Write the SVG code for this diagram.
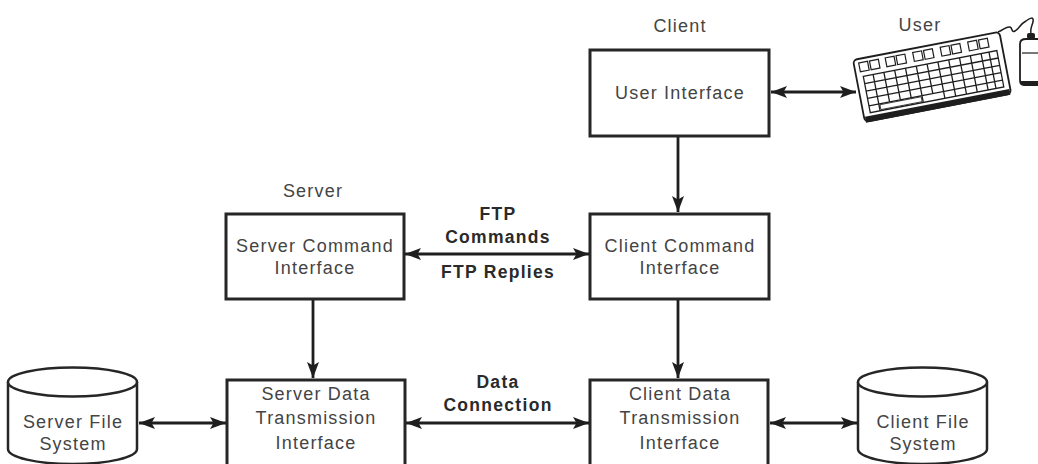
<svg xmlns="http://www.w3.org/2000/svg" width="1038" height="464" viewBox="0 0 1038 464">
  <style>
    .box { fill: #ffffff; stroke: #262626; stroke-width: 3; }
    .cyl { fill: #ffffff; stroke: #262626; stroke-width: 2.5; }
    .lbl { font-family: "Liberation Sans", Arial, sans-serif; font-size: 18px; fill: #444444; letter-spacing: 1.2px; text-anchor: middle; }
    .bold { font-family: "Liberation Sans", Arial, sans-serif; font-size: 17.5px; font-weight: bold; fill: #2a2a2a; letter-spacing: 1.3px; text-anchor: middle; }
    .wire { stroke: #1e1e1e; stroke-width: 2.8; fill: none; }
    .key { fill: #ffffff; stroke: #1e1e1e; stroke-width: 1.2; }
  </style>
  <defs>
    <marker id="head" viewBox="0 0 16 12" refX="16" refY="6" markerWidth="16" markerHeight="12" markerUnits="userSpaceOnUse" orient="auto-start-reverse">
      <path d="M0,0 L16,6 L0,12 L3.5,6 Z" fill="#1e1e1e"/>
    </marker>
  </defs>
  <rect width="1038" height="464" fill="#ffffff"/>

  <!-- section labels -->
  <text class="lbl" x="680" y="32">Client</text>
  <text class="lbl" x="920" y="31">User</text>
  <text class="lbl" x="313" y="197">Server</text>

  <!-- connectors -->
  <g id="connectors">
    <line class="wire" x1="771" y1="92" x2="856" y2="92" marker-start="url(#head)" marker-end="url(#head)"/>
    <line class="wire" x1="678" y1="136" x2="678" y2="212" marker-end="url(#head)"/>
    <line class="wire" x1="405" y1="254" x2="589" y2="254" marker-start="url(#head)" marker-end="url(#head)"/>
    <line class="wire" x1="313" y1="299" x2="313" y2="378" marker-end="url(#head)"/>
    <line class="wire" x1="678" y1="299" x2="678" y2="378" marker-end="url(#head)"/>
    <line class="wire" x1="139" y1="423" x2="226" y2="423" marker-start="url(#head)" marker-end="url(#head)"/>
    <line class="wire" x1="406" y1="423" x2="589" y2="423" marker-start="url(#head)" marker-end="url(#head)"/>
    <line class="wire" x1="770" y1="423" x2="857" y2="423" marker-start="url(#head)" marker-end="url(#head)"/>
    <text class="bold" x="498" y="220">FTP</text>
    <text class="bold" x="498" y="243">Commands</text>
    <text class="bold" x="498" y="278">FTP Replies</text>
    <text class="bold" x="498" y="388">Data</text>
    <text class="bold" x="498" y="411">Connection</text>
  </g>

  <!-- client side -->
  <g id="user-interface">
    <rect class="box" x="590" y="50" width="179" height="86"/>
    <text class="lbl" x="680" y="99">User Interface</text>
  </g>
  <g id="client-command-interface">
    <rect class="box" x="590" y="214" width="179" height="85"/>
    <text class="lbl" x="680" y="252">Client Command</text>
    <text class="lbl" x="680" y="274">Interface</text>
  </g>
  <g id="client-data-transmission-interface">
    <rect class="box" x="590" y="380" width="178" height="100"/>
    <text class="lbl" x="680" y="400">Client Data</text>
    <text class="lbl" x="680" y="424">Transmission</text>
    <text class="lbl" x="680" y="449">Interface</text>
  </g>
  <g id="client-file-system">
    <path class="cyl" d="M858,382 L858,449 A64.5,15 0 0 0 987,449 L987,382"/>
    <ellipse class="cyl" cx="922.5" cy="382" rx="64.5" ry="14.5"/>
    <text class="lbl" x="923" y="428">Client File</text>
    <text class="lbl" x="923" y="450">System</text>
  </g>

  <!-- server side -->
  <g id="server-command-interface">
    <rect class="box" x="226" y="214" width="178" height="85"/>
    <text class="lbl" x="315" y="252">Server Command</text>
    <text class="lbl" x="315" y="274">Interface</text>
  </g>
  <g id="server-data-transmission-interface">
    <rect class="box" x="227" y="380" width="178" height="100"/>
    <text class="lbl" x="316" y="400">Server Data</text>
    <text class="lbl" x="316" y="424">Transmission</text>
    <text class="lbl" x="316" y="449">Interface</text>
  </g>
  <g id="server-file-system">
    <path class="cyl" d="M8,382 L8,449 A64.5,15 0 0 0 137,449 L137,382"/>
    <ellipse class="cyl" cx="72.5" cy="382" rx="64.5" ry="14.5"/>
    <text class="lbl" x="73" y="428">Server File</text>
    <text class="lbl" x="73" y="450">System</text>
  </g>

  <!-- user: keyboard and mouse -->
  <g id="user">
    <g transform="translate(853,60) rotate(-10.9)">
      <rect x="0" y="0" width="149" height="63" rx="4" fill="#ffffff" stroke="#1e1e1e" stroke-width="1.8"/>
      <path d="M1,58 L148,58 L148,64 L1,64 Z" fill="#1e1e1e"/>
      <!-- function row -->
      <rect class="key" x="5" y="4" width="9" height="9"/>
      <rect class="key" x="16" y="4" width="9" height="9"/>
      <rect class="key" x="32" y="4" width="9" height="9"/>
      <rect class="key" x="43" y="4" width="9" height="9"/>
      <rect class="key" x="60" y="4" width="9" height="9"/>
      <rect class="key" x="71" y="4" width="9" height="9"/>
      <rect class="key" x="88" y="4" width="9" height="9"/>
      <rect class="key" x="99" y="4" width="9" height="9"/>
      <rect class="key" x="116" y="4" width="9" height="9"/>
      <rect class="key" x="127" y="4" width="9" height="9"/>
      <!-- main key block -->
      <path d="M7,18 H143 V55 H7 Z M7,25.5 H143 M7,33 H143 M7,40.5 H143 M7,48 H143
               M17,18 V55 M28,18 V48 M39,18 V55 M50,18 V55 M61,18 V55 M72,18 V48 M83,18 V55
               M94,18 V55 M105,18 V55 M116,18 V55 M127,18 V55 M135,18 V55"
            fill="#ffffff" stroke="#1e1e1e" stroke-width="1.3"/>
      <rect x="18" y="49" width="42" height="5" fill="#ffffff" stroke="#1e1e1e" stroke-width="0.8"/>
    </g>
    <!-- cord -->
    <path d="M998,32 C1004,30 1006,26 1010,27 C1013,28 1011,33 1015,31 C1019,29 1020,24 1026,21 C1030,18 1034,16 1033,22 C1032,26 1030,28 1031,33"
          fill="none" stroke="#1e1e1e" stroke-width="1.5"/>
    <!-- mouse -->
    <rect x="1027" y="33" width="8" height="6" rx="2" fill="#1e1e1e"/>
    <path d="M1020,44 Q1020,39 1026,39 L1040,39 L1040,85 L1024,85 Q1020,85 1020,80 Z" fill="#ffffff" stroke="#1e1e1e" stroke-width="1.8"/>
    <path d="M1022,53 L1040,53" stroke="#1e1e1e" stroke-width="1.2"/>
    <path d="M1021,83 L1040,83" stroke="#1e1e1e" stroke-width="4"/>
  </g>
</svg>
